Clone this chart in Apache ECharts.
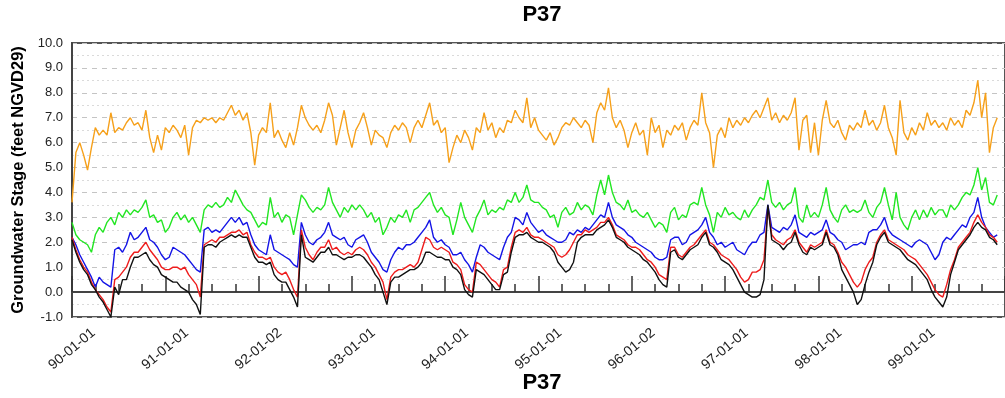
<!DOCTYPE html>
<html>
<head>
<meta charset="utf-8">
<script src="https://cdn.jsdelivr.net/npm/echarts@6/dist/echarts.min.js"></script>
<style>
html,body{margin:0;padding:0;background:#fff;}
#chart{width:1005px;height:398px;}
</style>
</head>
<body>
<div id="chart"></div>
<script>
// Half-monthly samples starting 1990-01-01 (step = 1/24 year)
const stepYears = 1 / 24;
const xTickLabels = ["90-01-01","91-01-01","92-01-02","93-01-01","94-01-01","95-01-01","96-01-02","97-01-01","98-01-01","99-01-01"];
const seriesNames = ["orange", "green", "blue", "red", "black"];

const orangeValues = [
3.6,5.6,6.0,5.5,4.9,5.8,6.6,6.3,6.5,6.3,7.2,6.4,6.6,6.5,6.8,7.0,6.7,6.8,6.5,7.3,6.2,5.6,6.3,5.7,
6.6,6.4,6.7,6.5,6.2,6.7,5.5,6.6,6.9,6.8,7.0,6.9,7.0,6.8,7.0,6.9,7.2,7.5,7.1,7.3,6.9,7.2,6.4,5.1,
6.3,6.6,6.4,7.6,6.2,6.5,6.1,5.8,6.4,5.9,6.6,7.5,7.0,6.7,6.5,6.7,6.4,6.9,7.6,7.1,5.9,6.6,7.3,6.4,
5.8,6.5,6.8,7.2,6.6,5.9,6.5,6.3,6.2,5.8,6.4,6.7,6.5,6.8,6.6,6.0,6.6,6.9,6.6,7.1,7.6,6.7,6.9,6.4,
6.6,5.2,5.8,6.3,6.0,6.5,6.2,5.7,6.6,6.4,7.2,6.5,6.8,6.2,6.6,6.4,6.9,6.8,7.3,7.0,6.8,7.8,6.6,7.0,
6.5,6.3,6.1,6.4,5.9,6.2,6.6,6.8,6.7,7.0,6.8,6.6,6.9,6.7,6.0,7.2,7.6,7.3,8.2,7.0,6.6,6.9,6.5,5.8,
6.4,6.8,6.3,6.5,5.5,7.0,6.4,6.7,5.8,6.5,6.3,6.7,6.5,6.8,6.1,6.6,6.9,6.7,8.0,6.8,6.4,5.0,6.3,6.6,
6.2,7.0,6.6,6.9,6.7,7.0,6.8,7.1,7.3,7.0,7.4,7.8,6.9,7.2,6.8,7.1,6.9,7.2,7.8,5.7,6.9,7.1,5.6,6.8,
5.5,6.9,7.7,6.8,6.6,6.9,6.4,6.1,6.7,6.5,6.8,6.6,7.3,6.7,6.9,6.5,6.8,7.5,6.6,6.2,5.5,7.7,6.4,6.1,
6.6,6.3,6.8,6.5,7.2,6.7,6.9,6.6,6.8,6.5,7.0,6.7,6.9,6.6,7.3,7.1,7.6,8.5,7.0,8.0,5.6,6.6,7.0
];
const greenValues = [
2.8,2.3,2.1,2.0,1.9,1.6,2.3,2.6,2.4,2.8,3.0,2.7,3.2,3.0,3.3,3.1,3.3,3.2,3.4,3.7,3.0,3.1,2.8,2.9,
2.4,2.6,3.0,3.2,2.9,3.1,2.8,3.0,2.7,2.4,3.3,3.5,3.4,3.6,3.4,3.5,3.8,3.6,4.1,3.8,3.5,3.3,3.2,2.9,
2.6,2.8,2.7,3.8,3.0,3.2,2.8,3.1,3.0,2.3,3.1,3.9,3.7,3.4,3.2,3.4,3.3,3.5,4.2,3.6,3.3,3.0,3.4,3.2,
3.5,3.3,3.5,3.3,3.0,3.2,2.8,3.0,2.3,2.6,3.0,2.8,3.1,3.0,3.3,2.8,3.3,3.4,3.6,3.8,4.0,3.5,3.2,3.4,
3.1,3.0,2.3,2.9,3.6,3.0,2.7,2.4,3.0,3.3,3.7,3.1,3.3,3.2,3.4,3.3,3.7,3.6,4.0,3.6,3.8,4.3,3.7,3.6,
3.6,3.4,3.3,3.0,3.1,2.6,3.2,3.4,3.1,3.2,3.6,3.3,3.5,3.4,3.1,3.9,4.5,3.9,4.7,4.0,3.6,3.5,3.3,3.7,
3.2,3.3,3.1,3.0,3.2,2.9,2.6,2.8,2.7,2.4,3.2,3.4,2.9,3.1,3.0,3.5,3.6,3.5,4.2,3.5,3.1,2.4,3.2,3.0,
3.4,3.1,3.2,3.0,2.9,3.3,3.0,3.3,3.5,3.8,3.7,4.5,3.6,3.4,3.6,3.3,3.5,3.6,4.2,3.0,2.8,3.5,3.0,3.2,
3.0,3.5,4.2,3.3,3.0,2.8,3.3,3.5,3.2,3.3,3.2,3.3,3.7,3.2,3.0,3.4,3.6,4.2,3.5,2.9,4.0,3.0,2.7,2.5,
3.0,3.3,2.9,3.3,3.0,3.4,3.1,3.3,3.3,3.0,3.5,3.3,3.5,3.8,4.0,3.9,4.3,5.0,4.1,4.6,3.6,3.5,3.9
];
const blueValues = [
2.2,1.9,1.5,1.2,0.9,0.6,0.2,0.6,0.4,0.3,0.2,1.7,1.8,1.6,1.9,2.4,2.1,2.2,2.4,2.6,2.1,2.0,1.8,1.5,
1.3,1.4,1.8,1.7,1.6,1.5,1.3,1.1,0.9,0.8,2.5,2.6,2.4,2.5,2.4,2.6,2.8,3.0,2.8,3.0,2.7,2.8,2.3,1.9,
1.7,1.6,1.5,2.3,1.7,1.6,1.5,1.4,1.3,1.1,1.0,2.8,2.3,2.0,1.9,2.1,2.2,2.4,2.8,2.3,2.2,2.1,2.2,1.9,
1.8,2.1,2.2,2.3,2.0,1.6,1.4,1.2,0.9,0.8,1.3,1.6,1.8,1.7,1.9,1.9,2.0,2.2,2.4,2.6,2.9,2.2,2.0,2.1,
1.9,1.8,1.5,1.5,1.6,1.3,1.1,0.8,1.4,1.9,1.8,1.6,1.5,1.4,1.3,1.8,2.2,2.4,3.0,2.9,2.7,3.2,2.8,2.6,
2.4,2.5,2.3,2.2,2.1,2.0,2.0,2.1,2.4,2.3,2.5,2.4,2.6,2.5,2.7,2.9,3.1,3.0,3.6,3.0,2.7,2.6,2.5,2.3,
2.2,2.0,1.9,1.8,1.7,1.6,1.4,1.3,1.3,1.4,2.1,2.2,2.2,1.9,2.0,2.3,2.4,2.5,2.7,3.0,2.4,2.2,1.9,2.0,
1.8,1.9,2.0,1.7,1.6,1.5,1.8,2.0,2.0,2.3,2.4,3.5,2.6,2.5,2.4,2.6,2.5,2.7,3.1,2.4,2.3,2.2,2.4,2.3,
2.4,2.5,2.9,2.4,2.3,2.1,2.0,1.7,1.8,1.9,1.9,2.0,1.9,2.4,2.5,2.5,2.7,3.0,2.5,2.3,2.2,2.1,2.0,1.9,
1.8,2.0,2.1,2.0,1.9,1.6,1.3,1.5,2.0,2.2,2.1,2.3,2.5,2.7,2.6,3.0,3.2,3.8,3.0,2.6,2.4,2.2,2.3
];
const redValues = [
2.2,1.7,1.3,1.0,0.8,0.4,0.1,-0.1,-0.3,-0.6,-0.8,0.5,0.6,0.8,1.0,1.4,1.6,1.6,1.8,2.0,1.7,1.5,1.3,1.0,
0.9,0.9,1.0,1.0,0.9,1.0,0.7,0.5,0.3,-0.2,1.9,2.0,2.1,2.0,2.2,2.2,2.3,2.4,2.4,2.5,2.3,2.4,1.9,1.6,
1.4,1.4,1.3,1.4,1.0,0.8,0.7,0.8,0.5,0.1,-0.2,2.5,1.8,1.5,1.3,1.6,1.8,1.8,2.1,1.7,1.8,1.6,1.5,1.6,
1.5,1.7,1.8,1.7,1.5,1.2,1.0,0.7,0.4,-0.3,0.6,0.8,0.9,0.9,1.0,1.1,1.0,1.2,1.7,2.2,2.1,1.8,1.7,1.8,
1.7,1.6,1.2,1.1,0.9,0.3,0.1,0.0,1.2,1.1,0.9,0.7,0.5,0.4,0.2,0.9,1.0,1.8,2.4,2.5,2.4,2.6,2.3,2.2,
2.2,2.1,2.0,1.9,1.8,1.5,1.4,1.5,1.7,2.0,2.3,2.3,2.5,2.4,2.5,2.6,2.8,2.8,3.0,2.7,2.3,2.2,2.1,1.9,
1.8,1.8,1.7,1.5,1.3,1.2,1.0,0.7,0.6,0.5,1.8,1.8,1.5,1.4,1.6,1.8,1.9,2.1,2.3,2.5,2.0,1.9,1.7,1.5,
1.4,1.3,1.1,0.9,0.6,0.4,0.5,0.8,0.8,0.9,1.3,3.4,2.3,2.1,2.0,1.9,2.1,2.2,2.5,2.0,1.8,1.6,1.9,1.8,
1.9,2.0,2.5,2.0,1.9,1.6,1.2,1.0,0.7,0.4,0.2,0.4,0.9,1.2,1.4,2.0,2.3,2.5,2.1,2.0,1.9,1.8,1.7,1.5,
1.4,1.3,1.1,0.9,0.7,0.4,0.1,-0.1,-0.2,0.3,0.9,1.3,1.8,2.0,2.2,2.4,2.8,3.1,2.8,2.6,2.3,2.2,2.0
];
const blackValues = [
2.1,1.6,1.2,0.9,0.7,0.3,0.1,-0.2,-0.4,-0.7,-1.0,0.2,-0.1,0.5,0.5,1.0,1.4,1.4,1.5,1.6,1.3,1.1,1.0,0.7,
0.6,0.5,0.4,0.4,0.2,0.1,0.0,-0.3,-0.5,-0.9,1.8,1.9,1.9,1.8,2.0,2.1,2.2,2.3,2.2,2.3,2.2,2.2,1.8,1.4,
1.2,1.2,1.1,1.2,0.7,0.5,0.4,0.4,0.1,-0.2,-0.6,2.3,1.4,1.3,1.2,1.4,1.6,1.6,1.8,1.5,1.5,1.4,1.3,1.4,
1.4,1.5,1.5,1.4,1.2,1.0,0.7,0.5,0.0,-0.5,0.4,0.6,0.6,0.7,0.8,0.9,0.9,1.0,1.2,1.6,1.6,1.5,1.4,1.4,
1.3,1.3,1.0,0.9,0.7,0.1,-0.1,-0.2,0.9,0.8,0.7,0.5,0.3,0.1,0.1,0.7,0.8,1.6,2.2,2.3,2.3,2.4,2.2,2.1,
2.0,2.0,1.9,1.8,1.6,1.2,1.0,0.8,0.9,1.2,2.0,2.2,2.3,2.3,2.3,2.5,2.6,2.7,2.9,2.6,2.2,2.1,2.0,1.8,
1.7,1.6,1.5,1.3,1.2,1.0,0.8,0.5,0.3,0.2,1.6,1.7,1.4,1.3,1.5,1.7,1.8,1.9,2.2,2.4,1.9,1.8,1.6,1.3,
1.2,1.1,0.9,0.6,0.3,0.0,-0.1,-0.2,-0.2,-0.1,0.5,3.5,2.1,2.0,1.9,1.7,1.9,2.0,2.4,1.9,1.6,1.5,1.8,1.7,
1.8,1.9,2.4,1.9,1.8,1.5,0.9,0.6,0.3,0.0,-0.5,-0.3,0.3,0.8,1.2,1.9,2.2,2.4,2.0,1.9,1.8,1.7,1.5,1.3,
1.2,1.1,0.9,0.7,0.5,0.1,-0.2,-0.4,-0.6,-0.2,0.7,1.2,1.7,1.9,2.1,2.3,2.6,2.8,2.6,2.5,2.2,2.1,1.9
];

const seriesColors = ["#f6a01a", "#22e622", "#1414e6", "#ee1c1c", "#111111"];
const allValues = [orangeValues, greenValues, blueValues, redValues, blackValues];

const FONT = "'Liberation Sans', Arial, Helvetica, sans-serif";
const chart = echarts.init(document.getElementById('chart'), null, {renderer: 'canvas'});

const series = allValues.map((vals, k) => ({
  name: seriesNames[k],
  type: 'line',
  showSymbol: false,
  symbol: 'none',
  animation: false,
  lineStyle: {color: seriesColors[k], width: 1.4},
  itemStyle: {color: seriesColors[k]},
  data: vals.map((v, i) => [i * stepYears, v])
}));

chart.setOption({
  backgroundColor: '#ffffff',
  animation: false,
  title: [
    {text: 'P37', left: 542, top: 4, textAlign: 'center', padding: 0,
     textStyle: {fontFamily: FONT, fontWeight: 'bold', fontSize: 22, color: '#000'}},
    {text: 'P37', left: 542, top: 372, textAlign: 'center', padding: 0,
     textStyle: {fontFamily: FONT, fontWeight: 'bold', fontSize: 22, color: '#000'}}
  ],
  grid: {left: 72, right: -7, top: 43, bottom: 81, show: true, borderColor: '#555', borderWidth: 2, backgroundColor: 'transparent'},
  xAxis: {
    type: 'value', min: 0, max: 10, interval: 1,
    axisLine: {show: true, lineStyle: {color: '#444', width: 2}},
    axisTick: {show: true, inside: true, length: 16, lineStyle: {color: '#333', width: 1.5}},
    minorTick: {show: true, splitNumber: 4, length: 8, lineStyle: {color: '#333', width: 1.5}},
    splitLine: {show: false},
    minorSplitLine: {show: false},
    axisLabel: {
      rotate: 40, margin: 32, align: 'center', verticalAlign: 'middle',
      fontFamily: FONT, fontSize: 14, color: '#222',
      showMaxLabel: false,
      formatter: function (v) { const k = Math.round(v); return xTickLabels[k] || ''; }
    }
  },
  yAxis: {
    type: 'value', min: -1, max: 10, interval: 1,
    name: 'Groundwater Stage (feet NGVD29)',
    nameLocation: 'middle', nameGap: 44, nameRotate: 90,
    nameTextStyle: {fontFamily: FONT, fontWeight: 'bold', fontSize: 16.5, color: '#000'},
    axisLine: {show: true, lineStyle: {color: '#444', width: 2}},
    axisTick: {show: false},
    minorTick: {show: false, splitNumber: 2},
    splitLine: {show: true, lineStyle: {color: '#c4c4c4', width: 1, type: [5, 5]}},
    minorSplitLine: {show: true, lineStyle: {color: '#dadada', width: 1, type: [2, 3]}},
    axisLabel: {
      margin: 9, fontFamily: FONT, fontSize: 13, color: '#222',
      formatter: function (v) { return v.toFixed(1); }
    }
  },
  series: series
});
</script>
</body>
</html>
